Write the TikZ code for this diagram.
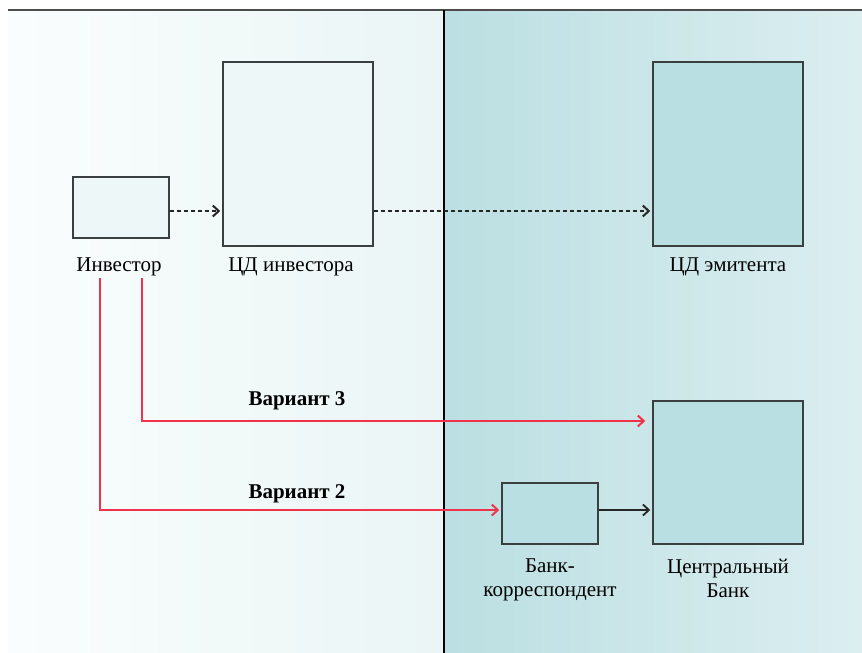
\documentclass[tikz,border=0pt]{standalone}
\usepackage{fontspec}
\setmainfont{Liberation Serif}
\usetikzlibrary{arrows.meta}
\definecolor{lpL}{HTML}{FAFDFD}
\definecolor{lpR}{HTML}{EAF5F5}
\definecolor{rpL}{HTML}{BBDFE2}
\definecolor{rpR}{HTML}{DCEEF0}
\definecolor{lbox}{HTML}{EEF7F7}
\definecolor{rbox}{HTML}{BADFE2}
\definecolor{redarr}{HTML}{F0324B}
\definecolor{edge}{HTML}{3A3F40}
\tikzset{
  lboxn/.style={draw=edge, line width=1.5pt, fill=lbox, inner sep=0pt},
  rboxn/.style={draw=edge, line width=1.5pt, fill=rbox, inner sep=0pt},
  lbl/.style={font=\fontsize{21}{24}\selectfont, align=center, inner sep=0pt},
  vlbl/.style={font=\fontsize{21}{24}\selectfont\bfseries, inner sep=0pt},
  dasharr/.style={draw=black!85, line width=2pt, dash pattern=on 4.5pt off 2.5pt, -{Straight Barb[length=6pt,width=11pt]}},
  solarr/.style={draw=black!85, line width=1.8pt, -{Straight Barb[length=6pt,width=11pt]}},
  redline/.style={draw=redarr, line width=2pt, -{Straight Barb[length=6pt,width=11pt]}}
}
\begin{document}
\begin{tikzpicture}[x=1pt,y=-1pt]
\useasboundingbox (0,0) rectangle (862,653);
% panels
\shade[left color=lpL, right color=lpR] (8,10) rectangle (444,653);
\shade[left color=rpL, right color=rpR] (444,10) rectangle (862,653);
\draw[line width=1.8pt, draw=black!70] (8,10) -- (862,10);
\draw[line width=1.4pt, draw=black] (444,10) -- (444,653);
% boxes
\node[lboxn, minimum width=96pt, minimum height=61pt] (inv) at (121,207.5) {};
\node[lboxn, minimum width=150pt, minimum height=184pt] (cdi) at (298,154) {};
\node[rboxn, minimum width=150pt, minimum height=184pt] (cde) at (728,154) {};
\node[rboxn, minimum width=150pt, minimum height=143pt] (cb) at (728,472.5) {};
\node[rboxn, minimum width=96pt, minimum height=61pt] (bk) at (550,513.5) {};
% labels
\node[lbl] (linv) at (119,267) {Инвестор};
\node[lbl] (lcdi) at (291,267) {ЦД инвестора};
\node[lbl] (lcde) at (728,267) {ЦД эмитента};
\node[lbl, anchor=north] (lbk) at (550,559) {Банк-\\корреспондент};
\node[lbl, anchor=north] (lcb) at (728,559) {Центральный\\Банк};
\node[vlbl] (v3) at (297,401) {Вариант 3};
\node[vlbl] (v2) at (297,494) {Вариант 2};
% connectors
\coordinate (s3) at (142,278);
\coordinate (s2) at (100,278);
\draw[dasharr, shorten >=2pt] (inv.east |- 0,211) -- (cdi.west |- 0,211);
\draw[dasharr, shorten >=2pt] (cdi.east |- 0,211) -- (cde.west |- 0,211);
\draw[solarr, shorten >=2pt] (bk.east |- 0,510) -- (cb.west |- 0,510);
\draw[redline, shorten >=7pt] (s3) |- (cb.west |- 0,421);
\draw[redline, shorten >=2pt] (s2) |- (bk.west |- 0,510);
\end{tikzpicture}
\end{document}
